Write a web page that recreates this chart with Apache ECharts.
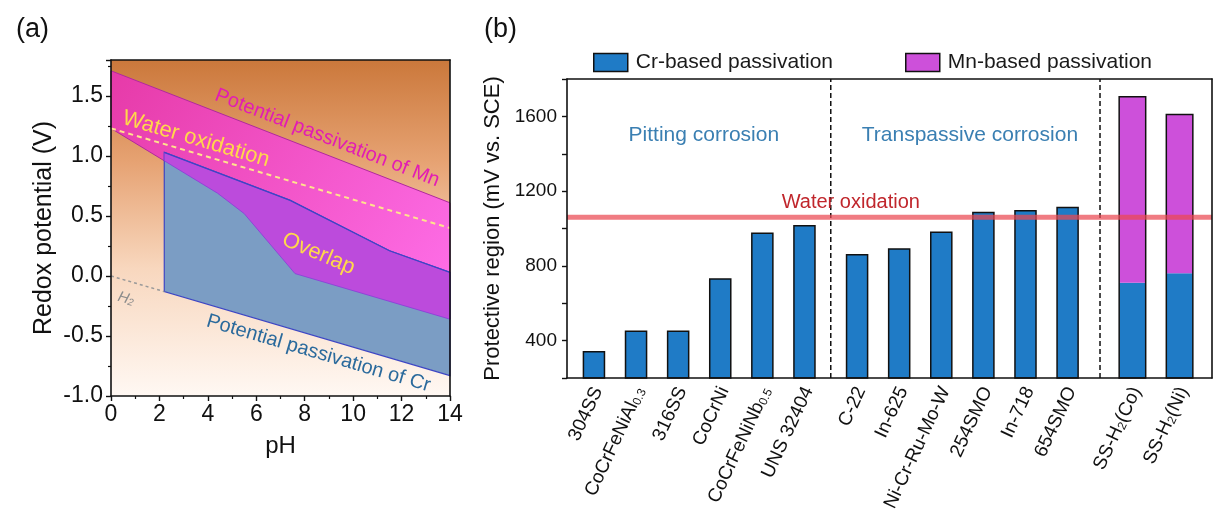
<!DOCTYPE html>
<html><head><meta charset="utf-8">
<script src="https://cdn.jsdelivr.net/npm/echarts@6/dist/echarts.min.js"></script>
<style>html,body{margin:0;padding:0;background:#fff}#c{width:1220px;height:529px}</style>
</head><body><div id="c"></div>
<script>
// ---------- Panel (a) data : Pourbaix-like regions (pH, V) ----------
const mnTopPH = [0, 14];
const mnTopV  = [1.71, 0.61];
const mnBotPH = [0, 2.2, 4.4, 5.5, 7.6, 14];
const mnBotV  = [1.23, 0.96, 0.69, 0.52, 0.02, -0.36];
const crTopPH = [2.2, 7.4, 11.5, 14];
const crTopV  = [1.03, 0.63, 0.21, 0.03];
const crBotPH = [2.2, 14];
const crBotV  = [-0.13, -0.83];
const waterPH = [0, 14];
const waterV  = [1.23, 0.40];
const h2PH = [0, 2.2];
const h2V  = [0, -0.13];

// ---------- Panel (b) data ----------
const categories = ['304SS','CoCrFeNiAl{s|0.3}','316SS','CoCrNi','CoCrFeNiNb{s|0.5}','UNS 32404',
  'C-22','In-625','Ni-Cr-Ru-Mo-W','254SMO','In-718','654SMO','SS-H{s|2}(Co)','SS-H{s|2}(Ni)'];
const groupOf  = [0,0,0,0,0,0,1,1,1,1,1,1,2,2];
const crValues = [340,450,450,730,975,1015,860,890,980,1085,1095,1112,710,760];
const mnValues = [0,0,0,0,0,0,0,0,0,0,0,0,995,850];
const waterOxidation = 1060;
const groupNames = ['Pitting corrosion','Transpassive corrosion'];

// ---------- layout / style ----------
const FONT = "'Liberation Sans', Arial, Helvetica, sans-serif";
const A_XMIN=0, A_XMAX=14, A_YMIN=-1, A_YMAX=1.8;
const B_XMIN=0, B_XMAX=15.32, B_YMIN=200, B_YMAX=1800;
const GROUP_START=[0.64, 6.89, 13.43], GROUP_STEP=[1,1,1.12], BAR_W=[0.5,0.5,0.63];
const CR_COLOR='#1f7bc6', MN_COLOR='#cd50da';

const pos = [];
(function(){ const cnt=[0,0,0]; groupOf.forEach((g,i)=>{ pos[i]=GROUP_START[g]+cnt[g]*GROUP_STEP[g]; cnt[g]++; }); })();
const separators = [];
for (let i=1;i<groupOf.length;i++) if (groupOf[i]!==groupOf[i-1]) separators.push((pos[i]+pos[i-1])/2);

function coords(api, xs, ys){ return xs.map((x,i)=>api.coord([x, ys[i]])); }
function ang(api, xs, ys){ const p1=api.coord([xs[0],ys[0]]), p2=api.coord([xs[xs.length-1],ys[ys.length-1]]); return -Math.atan2(p2[1]-p1[1], p2[0]-p1[0]); }

const shapesA = ['bg','mn','cr','overlap','crEdge','water','h2'];
function renderA(params, api){
  const k = shapesA[params.dataIndex];
  if (k==='bg'){
    const p0=api.coord([A_XMIN,A_YMAX]), p1=api.coord([A_XMAX,A_YMIN]);
    return {type:'rect', shape:{x:p0[0],y:p0[1],width:p1[0]-p0[0],height:p1[1]-p0[1]},
      style:{fill:new echarts.graphic.LinearGradient(0,0,0,1,[{offset:0,color:'#cb783b'},{offset:0.3,color:'#e6a272'},{offset:0.62,color:'#f8d7be'},{offset:1,color:'#fff8f3'}])}};
  }
  if (k==='mn'){
    const pts = coords(api,mnTopPH,mnTopV).concat(coords(api,mnBotPH,mnBotV).reverse());
    return {type:'polygon', shape:{points:pts}, style:{fill:new echarts.graphic.LinearGradient(0,0,1,1,[{offset:0,color:'#e63aa8'},{offset:1,color:'#ff70ea'}]), stroke:'#b02a9c', lineWidth:1}};
  }
  if (k==='cr'){
    const pts = coords(api,crTopPH,crTopV).concat(coords(api,crBotPH,crBotV).reverse());
    return {type:'polygon', shape:{points:pts}, style:{fill:'#7b9dc4', stroke:'#3d46c4', lineWidth:1.2}};
  }
  if (k==='overlap'){
    const inner = mnBotPH.map((x,i)=>[x,mnBotV[i]]).filter(p=>p[0]>=crTopPH[0]-1e-9).reverse();
    const pts = coords(api,crTopPH,crTopV).concat(inner.map(p=>api.coord(p)));
    return {type:'polygon', shape:{points:pts}, style:{fill:'#bc4bdc', stroke:'#8a3ad8', lineWidth:0.8}};
  }
  if (k==='crEdge'){
    return {type:'polyline', shape:{points:coords(api,crTopPH,crTopV)}, style:{fill:null, stroke:'#3d46c4', lineWidth:1.2}};
  }
  if (k==='water'){
    return {type:'polyline', shape:{points:coords(api,waterPH,waterV)}, style:{fill:null, stroke:'#ffe38c', lineWidth:2, lineDash:[5,4]}};
  }
  if (k==='h2'){
    return {type:'polyline', shape:{points:coords(api,h2PH,h2V)}, style:{fill:null, stroke:'#9a9a9a', lineWidth:1.5, lineDash:[3,3]}};
  }
}

const annA = [
  {text:'Potential passivation of Mn', at:[8.93,1.15], line:[mnTopPH,mnTopV], color:'#e21cb4', size:20},
  {text:'Water oxidation', at:[3.51,1.14], line:[waterPH,waterV], color:'#ffd84a', size:22},
  {text:'Overlap', at:[8.57,0.185], deg:-23, color:'#ffd84a', size:22},
  {text:'Potential passivation of Cr', at:[8.57,-0.645], line:[crBotPH,crBotV], color:'#2b6a9c', size:20},
  {text:'H{s|2}', at:[0.62,-0.19], line:[h2PH,h2V], color:'#8c8c8c', size:15, italic:true}
];
function renderAnnA(params, api){
  const a = annA[params.dataIndex];
  const p = api.coord(a.at);
  const rot = a.line ? ang(api, a.line[0], a.line[1]) : a.deg*Math.PI/180;
  return {type:'text', x:p[0], y:p[1], rotation:rot,
    style:{text:a.text, x:0, y:0, align:'center', verticalAlign:'middle', fill:a.color,
      fontSize:a.size, fontFamily:FONT, fontStyle:a.italic?'italic':'normal',
      rich:{s:{fontSize:Math.round(a.size*0.65), fill:a.color, fontFamily:FONT, fontStyle:a.italic?'italic':'normal', verticalAlign:'bottom', lineHeight:8}}}};
}

// Panel (b) renderers
function rectBetween(api, x, w, y0, y1){
  const p0=api.coord([x-w/2, y1]), p1=api.coord([x+w/2, y0]);
  return {x:p0[0], y:p0[1], width:p1[0]-p0[0], height:p1[1]-p0[1]};
}
function renderCr(params, api){
  const i = params.dataIndex;
  const stacked = mnValues[i] > 0;
  return {type:'rect', shape:rectBetween(api,pos[i],BAR_W[groupOf[i]],B_YMIN,crValues[i]),
    style:{fill:CR_COLOR, stroke:stacked?null:'#111', lineWidth:1.5}};
}
const mnIdx = mnValues.map((v,i)=>v>0?i:-1).filter(i=>i>=0);
function renderMn(params, api){
  const i = mnIdx[params.dataIndex];
  const w = BAR_W[groupOf[i]];
  const top = crValues[i]+mnValues[i];
  return {type:'group', children:[
    {type:'rect', shape:rectBetween(api,pos[i],w,crValues[i],top), style:{fill:MN_COLOR}},
    {type:'rect', shape:rectBetween(api,pos[i],w,B_YMIN,top), style:{fill:null, stroke:'#111', lineWidth:1.5}}
  ]};
}
function renderLabelsB(params, api){
  const i = params.dataIndex;
  const p = api.coord([pos[i], B_YMIN]);
  return {type:'text', x:p[0]+4, y:p[1]+10, rotation:65*Math.PI/180,
    style:{text:categories[i], x:0, y:0, align:'right', verticalAlign:'middle', fill:'#111', fontSize:19, fontFamily:FONT,
      rich:{s:{fontSize:12, fill:'#111', fontFamily:FONT, verticalAlign:'bottom', lineHeight:8}}}};
}
function renderSep(params, api){
  const x = separators[params.dataIndex];
  const p0=api.coord([x,B_YMIN]), p1=api.coord([x,B_YMAX]);
  return {type:'line', shape:{x1:p0[0],y1:p0[1],x2:p1[0],y2:p1[1]}, style:{stroke:'#111', lineWidth:1.5, lineDash:[5,3]}};
}
function renderWater(params, api){
  const p0=api.coord([B_XMIN,waterOxidation]), p1=api.coord([B_XMAX,waterOxidation]);
  return {type:'line', shape:{x1:p0[0],y1:p0[1],x2:p1[0],y2:p1[1]}, style:{stroke:'rgba(234,72,82,0.72)', lineWidth:5}};
}
const annB = [
  {text:groupNames[0], at:[3.25,1500], color:'#3a7fb2', size:21},
  {text:groupNames[1], at:[9.57,1500], color:'#3a7fb2', size:21},
  {text:'Water oxidation', at:[6.74,1140], color:'#c0262c', size:20}
];
function renderAnnB(params, api){
  const a = annB[params.dataIndex];
  const p = api.coord(a.at);
  return {type:'text', x:p[0], y:p[1], style:{text:a.text, x:0, y:0, align:'center', verticalAlign:'middle', fill:a.color, fontSize:a.size, fontFamily:FONT}};
}

const axisLineStyle = {color:'#111', width:1.6};
const chart = echarts.init(document.getElementById('c'));
chart.setOption({
  animation:false,
  backgroundColor:'#fff',
  textStyle:{fontFamily:FONT},
  grid:[
    {left:111, top:60, width:339, height:336},
    {left:567, top:79, width:645, height:299}
  ],
  legend:{
    data:['Cr-based passivation','Mn-based passivation'], left:588, top:47,
    itemWidth:34, itemHeight:18, itemGap:72, icon:'rect',
    itemStyle:{borderColor:'#111', borderWidth:1.5},
    textStyle:{fontSize:21, color:'#1a1a1a', fontFamily:FONT, padding:[0,0,0,3]}
  },
  graphic:[
    {type:'text', left:16, top:16, style:{text:'(a)', fontSize:27, fill:'#111', fontFamily:FONT}},
    {type:'text', left:484, top:16, style:{text:'(b)', fontSize:27, fill:'#111', fontFamily:FONT}}
  ],
  xAxis:[
    {gridIndex:0, type:'value', min:A_XMIN, max:A_XMAX, interval:2, z:10,
      name:'pH', nameLocation:'middle', nameGap:38, nameTextStyle:{fontSize:24, color:'#111', fontFamily:FONT},
      axisLine:{onZero:false, lineStyle:axisLineStyle}, axisTick:{show:true, length:5, lineStyle:{color:'#111', width:1.4}},
      minorTick:{show:true, splitNumber:2, length:3, lineStyle:{color:'#111', width:1.2}},
      axisLabel:{fontSize:23, color:'#111', margin:7, fontFamily:FONT}, splitLine:{show:false}},
    {gridIndex:0, type:'value', min:A_XMIN, max:A_XMAX, position:'top', z:10,
      axisLine:{show:true, onZero:false, lineStyle:axisLineStyle}, axisTick:{show:false}, axisLabel:{show:false}, splitLine:{show:false}},
    {gridIndex:1, type:'value', min:B_XMIN, max:B_XMAX, z:10,
      axisLine:{onZero:false, lineStyle:axisLineStyle}, axisTick:{show:false}, axisLabel:{show:false}, splitLine:{show:false}},
    {gridIndex:1, type:'value', min:B_XMIN, max:B_XMAX, position:'top', z:10,
      axisLine:{show:true, onZero:false, lineStyle:axisLineStyle}, axisTick:{show:false}, axisLabel:{show:false}, splitLine:{show:false}}
  ],
  yAxis:[
    {gridIndex:0, type:'value', min:A_YMIN, max:A_YMAX, interval:0.5, z:10,
      name:'Redox potential (V)', nameLocation:'middle', nameGap:54, nameTextStyle:{fontSize:25, color:'#111', fontFamily:FONT},
      axisLine:{show:true, onZero:false, lineStyle:axisLineStyle}, axisTick:{show:true, length:5, lineStyle:{color:'#111', width:1.4}},
      minorTick:{show:true, splitNumber:2, length:3, lineStyle:{color:'#111', width:1.2}},
      axisLabel:{fontSize:23, color:'#111', margin:8, fontFamily:FONT,
        formatter:v=>Math.abs(v*2-Math.round(v*2))<1e-6 ? v.toFixed(1) : ''},
      splitLine:{show:false}},
    {gridIndex:0, type:'value', min:A_YMIN, max:A_YMAX, position:'right', z:10,
      axisLine:{show:true, onZero:false, lineStyle:axisLineStyle}, axisTick:{show:false}, axisLabel:{show:false}, splitLine:{show:false}},
    {gridIndex:1, type:'value', min:B_YMIN, max:B_YMAX, interval:200, z:10,
      name:'Protective region (mV vs. SCE)', nameLocation:'middle', nameGap:45, nameTextStyle:{fontSize:22, color:'#111', fontFamily:FONT},
      axisLine:{show:true, onZero:false, lineStyle:axisLineStyle}, axisTick:{show:true, length:5, lineStyle:{color:'#111', width:1.4}},
      axisLabel:{fontSize:19, color:'#111', margin:10, fontFamily:FONT, formatter:v=>(v%400===0 ? String(v) : '')},
      splitLine:{show:false}},
    {gridIndex:1, type:'value', min:B_YMIN, max:B_YMAX, position:'right', z:10,
      axisLine:{show:true, onZero:false, lineStyle:axisLineStyle}, axisTick:{show:false}, axisLabel:{show:false}, splitLine:{show:false}}
  ],
  series:[
    {type:'custom', name:'regionsA', xAxisIndex:0, yAxisIndex:0, z:1, silent:true,
      data:shapesA.map(()=>[0,0]), renderItem:renderA},
    {type:'custom', name:'annA', xAxisIndex:0, yAxisIndex:0, z:5, silent:true,
      data:annA.map(()=>[0,0]), renderItem:renderAnnA},
    {type:'custom', name:'Cr-based passivation', xAxisIndex:2, yAxisIndex:2, z:2,
      itemStyle:{color:CR_COLOR, borderColor:'#111', borderWidth:1.5},
      data:crValues.map((v,i)=>[pos[i], v]), renderItem:renderCr},
    {type:'custom', name:'Mn-based passivation', xAxisIndex:2, yAxisIndex:2, z:2,
      itemStyle:{color:MN_COLOR, borderColor:'#111', borderWidth:1.5},
      data:mnIdx.map(i=>[pos[i], crValues[i]+mnValues[i]]), renderItem:renderMn},
    {type:'custom', name:'sep', xAxisIndex:2, yAxisIndex:2, z:3, silent:true,
      data:separators.map(x=>[x,B_YMIN]), renderItem:renderSep},
    {type:'custom', name:'water', xAxisIndex:2, yAxisIndex:2, z:4, silent:true,
      data:[[B_XMIN, waterOxidation]], renderItem:renderWater},
    {type:'custom', name:'annB', xAxisIndex:2, yAxisIndex:2, z:5, silent:true,
      data:annB.map(a=>a.at), renderItem:renderAnnB},
    {type:'custom', name:'labelsB', xAxisIndex:2, yAxisIndex:2, z:5, silent:true, clip:false,
      data:categories.map((c,i)=>[pos[i], B_YMIN]), renderItem:renderLabelsB}
  ]
});
</script></body></html>
